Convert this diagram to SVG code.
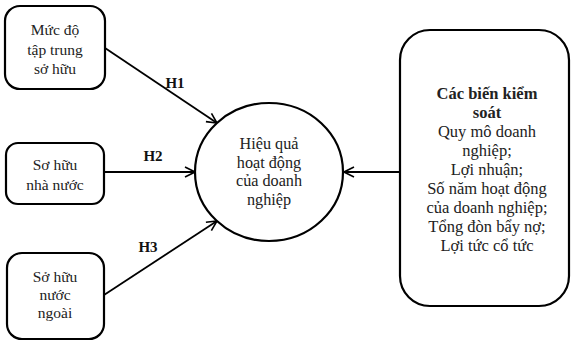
<svg xmlns="http://www.w3.org/2000/svg" width="571" height="342" viewBox="0 0 571 342">
<defs>
<marker id="arr" viewBox="0 0 12 12" refX="11" refY="6" markerWidth="12" markerHeight="12" markerUnits="userSpaceOnUse" orient="auto">
<path d="M1,1 L11,6 L1,11" fill="none" stroke="#000" stroke-width="1.6"/>
</marker>
<style>
.box{fill:#fff;stroke:#000;stroke-width:2.2}
.t{font-family:"Liberation Serif","Times New Roman",serif;font-size:15.5px;fill:#222;text-anchor:middle}
.m{font-size:16.2px}
.r{font-size:16.5px}
.b{font-weight:bold}
.lbl{font-family:"Liberation Serif","Times New Roman",serif;font-size:15px;font-weight:bold;fill:#111;text-anchor:middle}
.c{stroke:#000;stroke-width:1.8;fill:none;marker-end:url(#arr)}
</style>
</defs>
<rect width="571" height="342" fill="#fff"/>
<g id="connectors">
<line class="c" x1="105" y1="48" x2="217" y2="123"/>
<line class="c" x1="104" y1="172" x2="195" y2="172"/>
<line class="c" x1="104" y1="295" x2="217" y2="221"/>
<line class="c" x1="400" y1="172" x2="344" y2="172"/>
<text class="lbl" x="175" y="88">H1</text>
<text class="lbl" x="153" y="161">H2</text>
<text class="lbl" x="148" y="252">H3</text>
</g>
<g id="n1">
<rect class="box" x="5" y="6" width="100" height="83" rx="15"/>
<text class="t" x="55" y="35">Mức độ</text>
<text class="t" x="55" y="55">tập trung</text>
<text class="t" x="55" y="74">sở hữu</text>
</g>
<g id="n2">
<rect class="box" x="6" y="143" width="98" height="61" rx="12"/>
<text class="t" x="55" y="170">Sơ hữu</text>
<text class="t" x="55" y="190">nhà nước</text>
</g>
<g id="n3">
<rect class="box" x="7" y="253" width="97" height="86" rx="15"/>
<text class="t" x="55" y="282">Sở hữu</text>
<text class="t" x="55" y="300">nước</text>
<text class="t" x="55" y="318">ngoài</text>
</g>
<g id="center">
<ellipse class="box" cx="269" cy="172" rx="74" ry="69"/>
<text class="t m" x="269" y="149">Hiệu quả</text>
<text class="t m" x="269" y="167.5">hoạt động</text>
<text class="t m" x="269" y="186">của doanh</text>
<text class="t m" x="269" y="204.5">nghiệp</text>
</g>
<g id="controls">
<rect class="box" x="400" y="30" width="169" height="276" rx="30"/>
<text class="t r b" x="487" y="99">Các biến kiểm</text>
<text class="t r b" x="487" y="118">soát</text>
<text class="t r" x="487" y="137">Quy mô doanh</text>
<text class="t r" x="487" y="156">nghiệp;</text>
<text class="t r" x="487" y="175">Lợi nhuận;</text>
<text class="t r" x="487" y="194">Số năm hoạt động</text>
<text class="t r" x="487" y="213">của doanh nghiệp;</text>
<text class="t r" x="487" y="232">Tổng đòn bẩy nợ;</text>
<text class="t r" x="487" y="251">Lợi tức cổ tức</text>
</g>
</svg>
